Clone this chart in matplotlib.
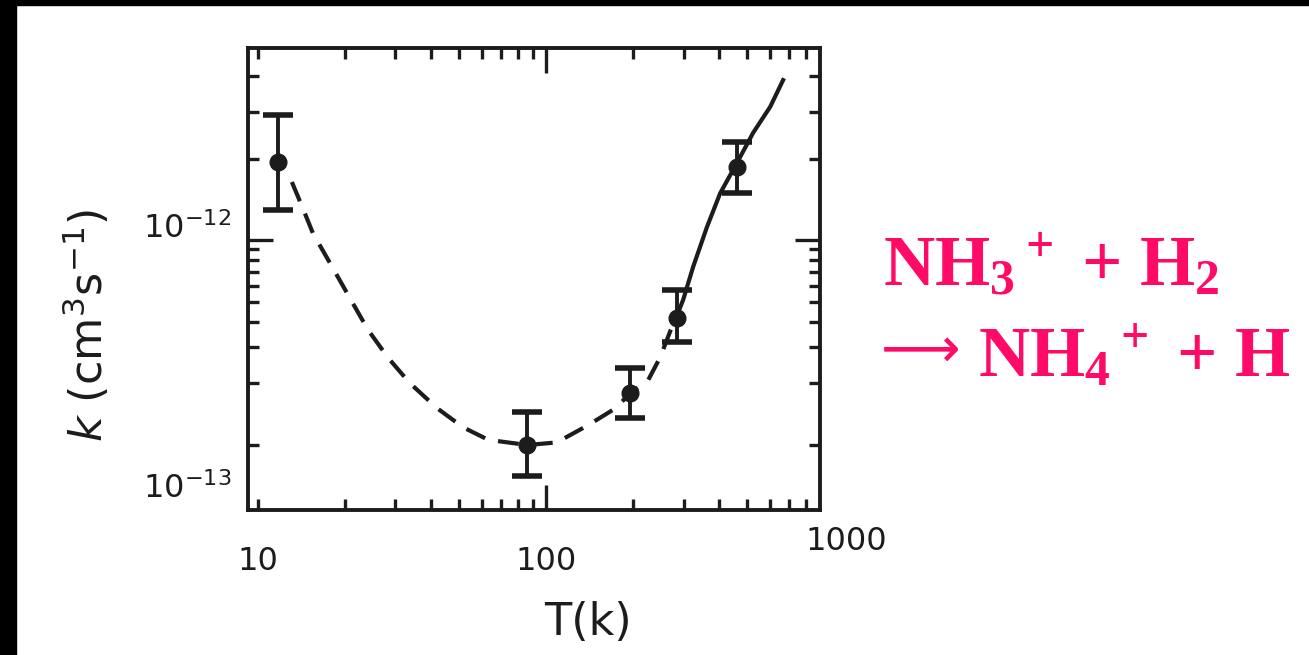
import matplotlib
matplotlib.use('Agg')
import matplotlib.pyplot as plt
import matplotlib.transforms as mtransforms
from matplotlib.patches import Rectangle
from matplotlib.ticker import FixedLocator, NullFormatter

# measured points with error bars (T in K, k in cm^3 s^-1)
T_pts = [11.7, 86, 196, 285, 460]
k_pts = [2.4e-12, 1.0e-13, 1.79e-13, 4.17e-13, 2.27e-12]
k_hi = [4.07e-12, 1.45e-13, 2.38e-13, 5.7e-13, 3.0e-12]
k_lo = [1.4e-12, 7.1e-14, 1.35e-13, 3.18e-13, 1.69e-12]

# dashed curve
T_dash = [13.1, 14.3, 15.5, 18.1, 21.2, 24.1, 28.3, 33.7, 41.9, 51.5, 63.0, 86, 101,
          109, 140, 174, 196, 226, 249, 281]
k_dash = [1.92e-12, 1.43e-12, 1.08e-12, 7.38e-13, 4.99e-13, 3.64e-13, 2.66e-13, 2.0e-13,
          1.51e-13, 1.22e-13, 1.06e-13, 1.0e-13, 1.02e-13, 1.03e-13, 1.25e-13, 1.51e-13,
          1.79e-13, 2.07e-13, 2.68e-13, 4.17e-13]

# solid curve
T_solid = [285, 299, 324, 362, 402, 460, 523, 600, 665]
k_solid = [4.3e-13, 5.1e-13, 7.4e-13, 1.16e-12, 1.69e-12, 2.38e-12, 3.33e-12, 4.47e-12, 6.03e-12]

# ticks
x_major = [10, 100]
x_labels = ['10', '100']
x_minor = [20, 30, 40, 50, 60, 70, 80, 90, 200, 300, 400, 500, 600, 700, 800, 900]
y_major = [1e-13, 1e-12]
y_labels = ['$10^{-13}$', '$10^{-12}$']
y_minor = [2e-13, 3e-13, 4e-13, 5e-13, 6e-13, 7e-13, 8e-13, 9e-13, 2.5e-12, 4.2e-12, 6.3e-12]

ink = '#1c1c1c'
pink = '#ff0a66'

plt.rcParams['mathtext.rm'] = 'Liberation Serif:bold'
plt.rcParams['mathtext.it'] = 'Liberation Serif:bold'
plt.rcParams['mathtext.bf'] = 'Liberation Serif:bold'

fig = plt.figure(figsize=(13.09, 6.55), dpi=100)
ax = fig.add_axes([0.1895, 0.2214, 0.4369, 0.7053])
ax.set_xscale('log')
ax.set_yscale('log')
ax.set_xlim(9.23, 893)
ax.set_ylim(4.82e-14, 8.65e-12)

ax.plot(T_dash, k_dash, color=ink, lw=3.0, dashes=(5, 3.2), zorder=2)
ax.plot(T_solid, k_solid, color=ink, lw=3.0, zorder=2)
ax.errorbar(T_pts, k_pts,
            yerr=[[k - lo for k, lo in zip(k_pts, k_lo)], [hi - k for k, hi in zip(k_pts, k_hi)]],
            fmt='o', color=ink, ms=12, elinewidth=2.8, capsize=11, capthick=4, zorder=3)

for s in ax.spines.values():
    s.set_linewidth(2.8)
    s.set_color(ink)

ax.set_xticks(x_major)
ax.set_xticklabels(x_labels)
ax.xaxis.set_minor_locator(FixedLocator(x_minor))
ax.xaxis.set_minor_formatter(NullFormatter())
ax.set_yticks(y_major)
ax.set_yticklabels(y_labels)
ax.yaxis.set_minor_locator(FixedLocator(y_minor))
ax.yaxis.set_minor_formatter(NullFormatter())

ax.tick_params(which='both', direction='in', top=True, right=True, color=ink, width=2.4,
               labelcolor=ink)
ax.tick_params(which='major', length=18, labelsize=23)
ax.tick_params(which='minor', length=8)
ax.tick_params(axis='x', which='major', pad=26)
ax.tick_params(axis='y', which='major', pad=12)

# the 10 and 1e-13 ticks are drawn short in the sketch
for t in [ax.xaxis.get_major_ticks()[0], ax.yaxis.get_major_ticks()[0]]:
    t.tick1line.set_markersize(8)
    t.tick2line.set_markersize(8)

for lbl, dy in zip(ax.get_yticklabels(), [-0.40, 0.15]):
    lbl.set_transform(lbl.get_transform() + mtransforms.ScaledTranslation(0, dy, fig.dpi_scale_trans))

trans = mtransforms.blended_transform_factory(ax.transData, ax.transAxes)
ax.text(1000, -0.069, '1000', transform=trans + mtransforms.ScaledTranslation(0.12, 0, fig.dpi_scale_trans),
        ha='center', va='center', fontsize=23, color=ink, clip_on=False)

ax.set_xlabel('T(k)', fontsize=32, color=ink)
ax.xaxis.set_label_coords(0.594, -0.198)
ax.set_ylabel('$k$ (cm$^3$s$^{-1}$)', fontsize=32, color=ink)
ax.yaxis.set_label_coords(-0.238, 0.40)

# reaction text on the right
chem_font = ['Liberation Serif', 'DejaVu Serif']
fig.text(883 / 1309, 1 - 285 / 655, r'NH$_3$$^+$ + H$_2$', color=pink, fontsize=51,
         family=chem_font, weight='bold', math_fontfamily='custom', ha='left', va='baseline')
fig.text(881 / 1309, 1 - 352 / 655, '⟶', color=pink, fontsize=40,
         family=['DejaVu Sans'], ha='left', va='center')
fig.text(978 / 1309, 1 - 377 / 655, r'NH$_4$$^+$ + H', color=pink, fontsize=51,
         family=chem_font, weight='bold', math_fontfamily='custom', ha='left', va='baseline')

# black frame strips at the top and left edge of the slide
fig.add_artist(Rectangle((0, 0), 16 / 1309, 1, transform=fig.transFigure, color='black', zorder=10))
fig.add_artist(Rectangle((0, 1 - 5 / 655), 1, 5 / 655, transform=fig.transFigure, color='black', zorder=10))

fig.savefig('out.png', dpi=100)
